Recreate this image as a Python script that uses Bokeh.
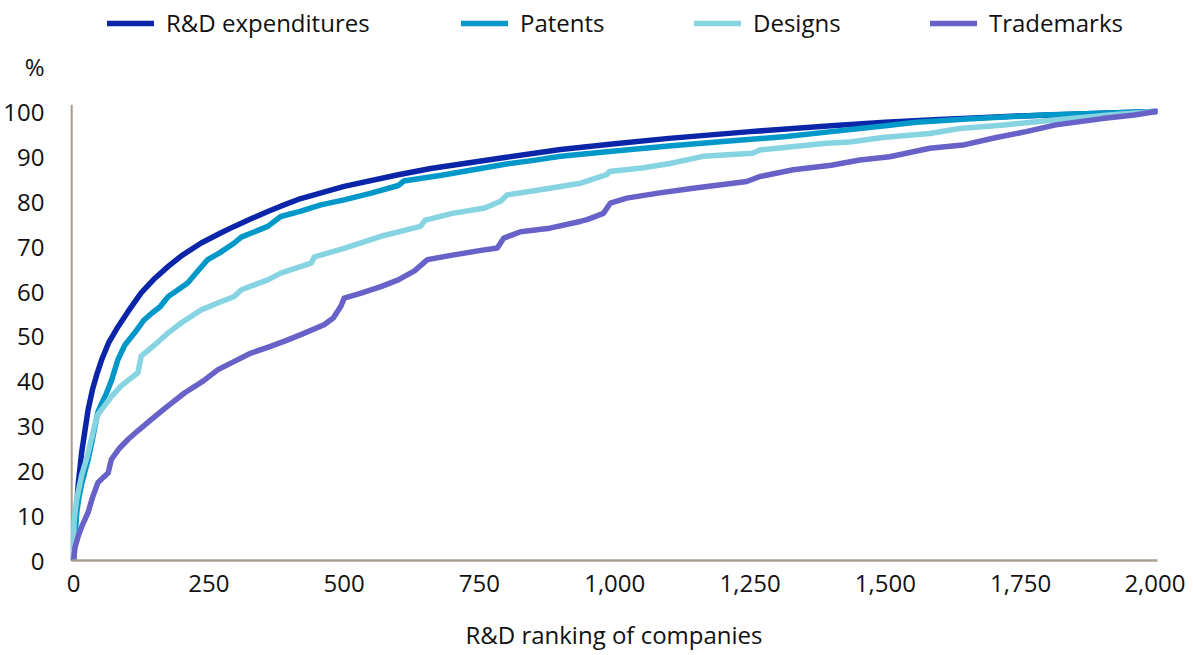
from bokeh.plotting import figure
from bokeh.models import Range1d, Legend, LegendItem, NumeralTickFormatter, FixedTicker
from bokeh.embed import file_html
from bokeh.resources import INLINE

# ---- data ----
rd_rank = [0, 1, 3, 5, 9, 15, 20, 27, 35, 44, 52, 65, 82, 100, 125, 150, 175, 200, 236, 270, 297, 330, 359, 383, 420,
           500, 600, 660, 750, 800, 900, 1000, 1100, 1250, 1400, 1500, 1600, 1750, 1900, 2000]
rd_val = [0, 2.5, 7, 10.5, 17.3, 24, 28, 33.6, 38, 41.8, 44.7, 48.5, 52, 55.3, 59.6, 62.8, 65.5, 67.9, 70.7, 72.8, 74.4,
          76.2, 77.7, 78.9, 80.6, 83.3, 85.9, 87.3, 88.9, 89.8, 91.5, 92.8, 94.0, 95.5, 96.8, 97.6, 98.2, 99.0, 99.6, 100]

pat_rank = [0, 3, 6, 10, 15, 27, 35, 45, 52, 60, 70, 82, 95, 113, 130, 144, 160, 175, 190, 211, 230, 248, 270, 297,
            310, 330, 359, 383, 420, 457, 500, 550, 600, 610, 680, 752, 800, 850, 900, 1000, 1100, 1200, 1317, 1400,
            1453, 1500, 1557, 1650, 1790, 1900, 2000]
pat_val = [0, 6, 10.7, 14, 17, 22.5, 27, 33, 35, 37, 40, 44.7, 48, 50.7, 53.5, 55, 56.5, 58.8, 60, 61.8, 64.5, 67, 68.5,
           70.7, 72, 73, 74.4, 76.6, 77.8, 79.2, 80.3, 81.8, 83.5, 84.5, 85.8, 87.3, 88.3, 89.1, 90, 91.2, 92.3, 93.3,
           94.4, 95.5, 96.2, 96.8, 97.6, 98.3, 99.2, 99.6, 100]

des_rank = [0, 1, 5, 10, 15, 25, 39, 45, 52, 70, 88, 105, 119, 125, 150, 175, 200, 236, 270, 297, 310, 359, 383, 439,
            445, 500, 568, 641, 650, 700, 760, 789, 801, 860, 900, 936, 985, 990, 1050, 1102, 1163, 1255, 1268, 1391,
            1434, 1495, 1582, 1637, 1720, 1803, 1913, 2000]
des_val = [0, 8.5, 13, 16, 19, 23, 30, 32.5, 33.6, 36.5, 38.9, 40.5, 41.8, 45.5, 48, 50.7, 53, 55.8, 57.5, 58.8, 60.3,
           62.5, 64, 66.2, 67.6, 69.5, 72.2, 74.4, 75.8, 77.3, 78.5, 80, 81.4, 82.5, 83.3, 84, 85.9, 86.6, 87.4, 88.4,
           90, 90.7, 91.4, 92.9, 93.2, 94.2, 95.1, 96.2, 97, 98, 99.2, 100]

tm_rank = [0, 3, 9, 15, 27, 35, 45, 55, 64, 70, 85, 101, 120, 144, 170, 205, 240, 267, 300, 328, 360, 389, 420, 463,
           480, 494, 500, 530, 568, 600, 630, 654, 700, 750, 783, 795, 826, 880, 936, 949, 979, 992, 1022, 1080, 1145,
           1244, 1268, 1330, 1400, 1453, 1508, 1582, 1643, 1705, 1760, 1815, 1901, 1960, 2000]
tm_val = [0, 3, 5.5, 7.5, 10.7, 14, 17.3, 18.5, 19.5, 22.5, 25, 27, 29, 31.4, 34, 37.3, 40, 42.5, 44.5, 46.2, 47.5,
          48.8, 50.3, 52.5, 54, 56.6, 58.4, 59.5, 61, 62.5, 64.5, 67, 68, 69, 69.6, 71.8, 73.2, 74, 75.5, 75.9, 77.3,
          79.6, 80.7, 81.8, 82.9, 84.4, 85.5, 87, 88, 89.2, 89.9, 91.8, 92.5, 94.2, 95.5, 97, 98.4, 99.2, 100]

series_names = ["R&D expenditures", "Patents", "Designs", "Trademarks"]
x_ticks = [0, 250, 500, 750, 1000, 1250, 1500, 1750, 2000]
y_ticks = [0, 10, 20, 30, 40, 50, 60, 70, 80, 90, 100]
y_unit = "%"
y_unit_pos = 110          # the unit label sits one step above the top tick

colors = ["#0b25a9", "#0098c9", "#86d3e2", "#6861c8"]
FONT = "Open Sans"
FS = "24px"
TXT = "#111111"
AXIS_COL = "#a89f91"

X0, X1 = -5.54, 2002.8
Y0, Y1 = 0, 124.7
Y_AXIS_TOP = 101.5
Y_AXIS_X = -3.7

p = figure(frame_width=1087, frame_height=560, output_backend="svg", toolbar_location=None,
           x_range=Range1d(X0, X1), y_range=Range1d(Y0, Y1),
           min_border_left=62, min_border_right=28, min_border_top=0, min_border_bottom=80)
p.outline_line_color = None
p.xgrid.visible = False
p.ygrid.visible = False
p.background_fill_color = "white"
p.border_fill_color = "white"

for ax in (p.xaxis[0], p.yaxis[0]):
    ax.major_tick_line_color = None
    ax.minor_tick_line_color = None
    ax.major_label_text_font = FONT
    ax.major_label_text_font_size = FS
    ax.major_label_text_color = TXT

p.xaxis.axis_line_color = AXIS_COL
p.xaxis.axis_line_width = 2.5
p.xaxis.bounds = (Y_AXIS_X, X1)
p.xaxis.ticker = FixedTicker(ticks=x_ticks)
p.xaxis.formatter = NumeralTickFormatter(format="0,0")
p.xaxis.major_label_standoff = 8
p.xaxis.axis_label = "R&D ranking of companies"
p.xaxis.axis_label_text_font = FONT
p.xaxis.axis_label_text_font_size = FS
p.xaxis.axis_label_text_font_style = "normal"
p.xaxis.axis_label_text_color = TXT
p.xaxis.axis_label_standoff = 23

# y axis: labels only (plus the unit label on top); its line is drawn up to 100 only
p.yaxis.axis_line_color = None
p.yaxis.ticker = FixedTicker(ticks=y_ticks + [y_unit_pos])
p.yaxis.major_label_overrides = {y_unit_pos: y_unit}
p.yaxis.major_label_standoff = 20
p.line([Y_AXIS_X, Y_AXIS_X], [Y0, Y_AXIS_TOP], line_color=AXIS_COL, line_width=2.5)

data = [(rd_rank, rd_val), (pat_rank, pat_val), (des_rank, des_val), (tm_rank, tm_val)]
renderers = []
for (xs, ys), c in zip(data, colors):
    r = p.line(xs, ys, line_color=c, line_width=5.5, line_join="round", line_cap="round")
    renderers.append(r)

# legend: one small legend per item, placed in the empty band above the curves
leg_x = [37, 391, 624, 860]
for name, r, lx in zip(series_names, renderers, leg_x):
    lg = Legend(items=[LegendItem(label=name, renderers=[r])], location=(lx, 521),
                orientation="horizontal", padding=0, margin=0, spacing=0,
                glyph_width=47, glyph_height=24, label_height=24, label_standoff=12,
                label_text_font=FONT, label_text_font_size=FS, label_text_color=TXT,
                border_line_color=None, background_fill_alpha=0)
    p.add_layout(lg, "center")

open("out.html", "w").write(file_html(p, INLINE))
